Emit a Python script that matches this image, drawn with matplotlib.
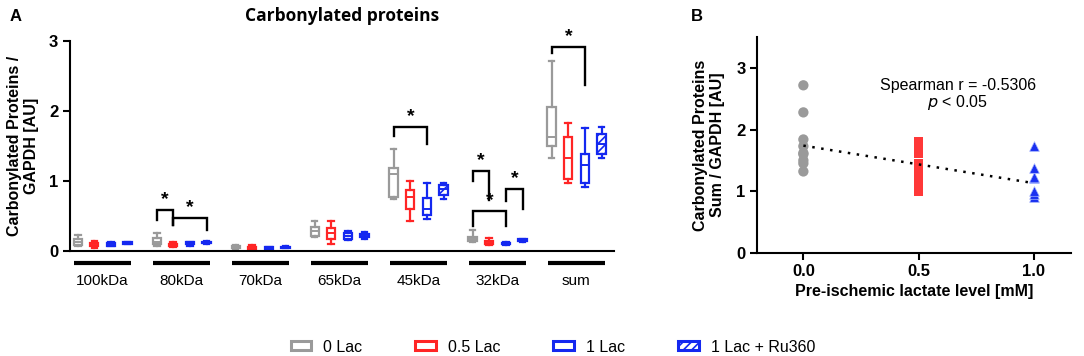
import numpy as np
import matplotlib.pyplot as plt
from matplotlib.patches import Patch

plt.rcParams['font.family'] = ['Liberation Sans', 'DejaVu Sans']
plt.rcParams['hatch.linewidth'] = 1.2

# ---- panel A data: box stats per band (min, q1, median, q3, max) ----
bands = ["100kDa", "80kDa", "70kDa", "65kDa", "45kDa", "32kDa", "sum"]
groups = ["0 Lac", "0.5 Lac", "1 Lac", "1 Lac + Ru360"]
colors = ["#9a9a9a", "#ff2525", "#1428f0", "#1428f0"]

stats_0lac = [
    (0.06, 0.08, 0.12, 0.16, 0.23),
    (0.07, 0.10, 0.13, 0.18, 0.25),
    (0.03, 0.04, 0.05, 0.06, 0.08),
    (0.19, 0.21, 0.28, 0.34, 0.42),
    (0.74, 0.76, 1.10, 1.18, 1.45),
    (0.12, 0.14, 0.16, 0.19, 0.30),
    (1.33, 1.50, 1.62, 2.05, 2.71),
]
stats_05lac = [
    (0.04, 0.06, 0.09, 0.11, 0.14),
    (0.05, 0.07, 0.08, 0.09, 0.12),
    (0.01, 0.03, 0.04, 0.05, 0.08),
    (0.10, 0.17, 0.25, 0.32, 0.43),
    (0.42, 0.59, 0.77, 0.86, 0.99),
    (0.08, 0.10, 0.12, 0.14, 0.18),
    (0.97, 1.02, 1.33, 1.63, 1.82),
]
stats_1lac = [
    (0.06, 0.07, 0.09, 0.11, 0.12),
    (0.07, 0.09, 0.10, 0.12, 0.13),
    (0.02, 0.03, 0.04, 0.05, 0.05),
    (0.15, 0.17, 0.21, 0.25, 0.28),
    (0.45, 0.51, 0.59, 0.75, 0.97),
    (0.08, 0.09, 0.10, 0.11, 0.12),
    (0.91, 0.96, 1.23, 1.38, 1.75),
]
stats_ru360 = [
    (0.09, 0.10, 0.11, 0.12, 0.13),
    (0.10, 0.11, 0.12, 0.13, 0.14),
    (0.04, 0.045, 0.05, 0.055, 0.06),
    (0.17, 0.19, 0.21, 0.24, 0.26),
    (0.74, 0.80, 0.88, 0.94, 0.96),
    (0.13, 0.14, 0.15, 0.16, 0.17),
    (1.33, 1.38, 1.52, 1.66, 1.77),
]
all_stats = [stats_0lac, stats_05lac, stats_1lac, stats_ru360]

# significance brackets: (band, left group, right group, top, left leg end, right leg end)
brackets = [
    (1, 0, 1, 0.58, 0.44, 0.37),
    (1, 1, 3, 0.47, 0.37, 0.30),
    (4, 0, 2, 1.76, 1.64, 1.52),
    (5, 0, 1, 1.14, 0.99, 0.72),
    (5, 0, 2, 0.56, 0.35, 0.35),
    (5, 2, 3, 0.88, 0.71, 0.59),
    (6, 0, 2, 2.91, 2.82, 2.37),
]

# ---- panel B data ----
lac_0 = [1.32, 1.45, 1.50, 1.60, 1.62, 1.73, 1.84, 2.28, 2.72]
lac_05 = [0.99, 1.05, 1.13, 1.22, 1.31, 1.40, 1.44, 1.62, 1.70, 1.81]
lac_1 = [0.91, 0.96, 1.00, 1.21, 1.23, 1.37, 1.73]
fit_x = [0.0, 1.0]
fit_y = [1.74, 1.13]

fig = plt.figure(figsize=(10.84, 3.56), dpi=100)

# ================= panel A =================
axA = fig.add_axes([0.0646, 0.2958, 0.502, 0.59])
offsets = np.array([-0.31, -0.105, 0.11, 0.32])
box_w = 0.11

for g, stats in enumerate(all_stats):
    bxp_stats = []
    for lo, q1, med, q3, hi in stats:
        bxp_stats.append(dict(whislo=lo, q1=q1, med=med, q3=q3, whishi=hi, fliers=[]))
    pos = np.arange(len(bands)) + offsets[g]
    c = colors[g]
    res = axA.bxp(bxp_stats, positions=pos, widths=box_w, patch_artist=True,
                  showfliers=False,
                  boxprops=dict(facecolor="white", edgecolor=c, linewidth=1.6),
                  medianprops=dict(color=c, linewidth=1.4),
                  whiskerprops=dict(color=c, linewidth=1.6),
                  capprops=dict(color=c, linewidth=1.6),
                  capwidths=box_w * 0.6,
                  manage_ticks=False)
    if g == 3:
        for b in res["boxes"]:
            b.set_hatch("////")

for band, gl, gr, top, yl, yr in brackets:
    xl = band + offsets[gl]
    xr = band + offsets[gr]
    axA.plot([xl, xl, xr, xr], [yl, top, top, yr], color="black", lw=1.7,
             solid_joinstyle="miter")
    axA.text((xl + xr) / 2, top + 0.03, "*", ha="center", va="bottom",
             fontsize=14, fontweight="bold")

# band underline bars and labels below the axis
for i, name in enumerate(bands):
    axA.plot([i - 0.36, i + 0.36], [-0.175, -0.175], color="black", lw=3,
             clip_on=False, solid_capstyle="butt")
    axA.text(i, -0.43, name, ha="center", va="center", fontsize=11)

axA.set_xlim(-0.41, 6.48)
axA.set_ylim(0, 3)
axA.set_yticks([0, 1, 2, 3])
axA.set_xticks([])
for s in ["top", "right"]:
    axA.spines[s].set_visible(False)
for s in ["left", "bottom"]:
    axA.spines[s].set_linewidth(1.5)
axA.tick_params(axis="y", width=1.5, length=5, labelsize=12)
for lab in axA.get_yticklabels():
    lab.set_fontweight("bold")
axA.set_ylabel("Carbonylated Proteins /\nGAPDH [AU]", fontsize=11.5,
               fontweight="bold", labelpad=7)
axA.set_title("Carbonylated proteins", fontsize=12.5, fontweight="bold",
              family=["Open Sans", "DejaVu Sans"], pad=14)
fig.text(0.009, 0.955, "A", fontsize=12, fontweight="bold", va="center")

# ================= panel B =================
axB = fig.add_axes([0.6986, 0.2902, 0.2891, 0.605])
axB.scatter(np.zeros(len(lac_0)), lac_0, s=55, color="#9a9a9a", zorder=3,
            edgecolors="none")
axB.scatter(np.full(len(lac_05), 0.5), lac_05, s=46, marker="s", color="#ff3838",
            edgecolors="none", zorder=3)
axB.scatter(np.ones(len(lac_1)), lac_1, s=48, marker="^", color="#1a30f0",
            edgecolors="#9fb0ff", linewidths=0.5, zorder=3)
axB.plot(fit_x, fit_y, color="black", lw=1.8, linestyle=(0, (1, 2.6)), zorder=4)
axB.text(0.67, 2.71, "Spearman r = -0.5306", ha="center", va="center", fontsize=11.5)
axB.text(0.67, 2.44, r"$p$ < 0.05", ha="center", va="center", fontsize=11.5)

axB.set_xlim(-0.2, 1.16)
axB.set_ylim(0, 3.5)
axB.set_xticks([0.0, 0.5, 1.0])
axB.set_xticklabels(["0.0", "0.5", "1.0"])
axB.set_yticks([0, 1, 2, 3])
for s in ["top", "right"]:
    axB.spines[s].set_visible(False)
for s in ["left", "bottom"]:
    axB.spines[s].set_linewidth(1.5)
axB.tick_params(width=1.5, length=5, labelsize=12)
for lab in axB.get_xticklabels() + axB.get_yticklabels():
    lab.set_fontweight("bold")
axB.set_xlabel("Pre-ischemic lactate level [mM]", fontsize=11.5,
               fontweight="bold", labelpad=3)
axB.set_ylabel("Carbonylated Proteins\nSum / GAPDH [AU]", fontsize=11.5,
               fontweight="bold", labelpad=8)
fig.text(0.637, 0.955, "B", fontsize=12, fontweight="bold", va="center")

# ================= legend =================
handles = []
for g, name in enumerate(groups):
    h = Patch(facecolor="white", edgecolor=colors[g], linewidth=2.2,
              hatch="////" if g == 3 else None, label=name)
    handles.append(h)
fig.legend(handles=handles, loc="center", bbox_to_anchor=(0.51, 0.025), ncol=4,
           frameon=False, fontsize=11.5, handlelength=1.3, handleheight=0.5,
           columnspacing=3.3, handletextpad=0.75)

fig.savefig("out.png", dpi=100)
